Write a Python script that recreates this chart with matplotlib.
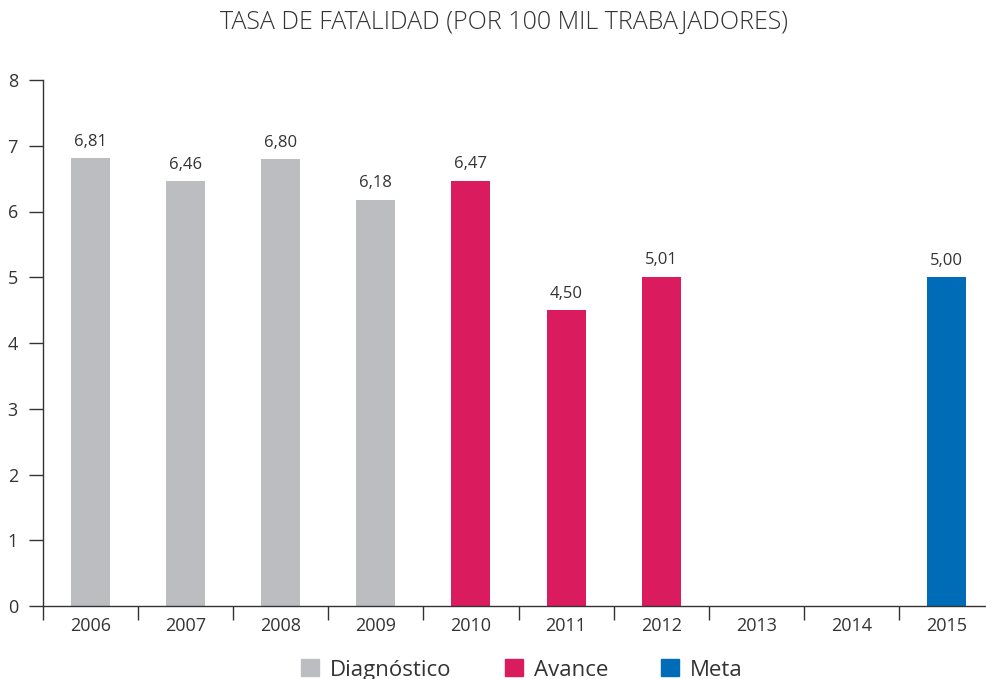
import matplotlib
matplotlib.use("Agg")
import matplotlib.pyplot as plt
from matplotlib.patches import Patch

# ----- data -----
years = ["2006", "2007", "2008", "2009", "2010", "2011", "2012", "2013", "2014", "2015"]
values = [6.81, 6.46, 6.80, 6.18, 6.47, 4.50, 5.01, None, None, 5.00]
groups = ["Diagnóstico", "Diagnóstico", "Diagnóstico", "Diagnóstico",
          "Avance", "Avance", "Avance", None, None, "Meta"]
group_colors = {"Diagnóstico": "#BCBDC1", "Avance": "#DA1B5D", "Meta": "#006BB6"}

txt = "#333333"
plt.rcParams["font.family"] = ["Open Sans", "DejaVu Sans"]

fig = plt.figure(figsize=(9.86, 6.79), dpi=100)
ax = fig.add_axes([43 / 986, 73 / 679, 951 / 986, 526 / 679])

for i, (v, g) in enumerate(zip(values, groups)):
    if v is None:
        continue
    ax.bar(i, v, width=0.41, color=group_colors[g], zorder=2)
    ax.annotate(f"{v:.2f}".replace(".", ","), (i, v), xytext=(0, 6),
                textcoords="offset points", ha="center", va="bottom",
                fontsize=12, color=txt)

ax.set_xlim(-0.5, 9.5)
ax.set_ylim(0, 8)
ax.set_yticks(range(0, 9))
ax.set_xticks(range(len(years)))
ax.set_xticklabels(years)
ax.set_xticks([i - 0.5 for i in range(len(years))], minor=True)
ax.tick_params(axis="x", which="major", length=0, pad=8, labelsize=13, labelcolor=txt)
ax.tick_params(axis="x", which="minor", length=10, width=1, color=txt)
ax.tick_params(axis="y", length=10, width=1, color=txt, pad=8, labelsize=13, labelcolor=txt)

for s in ["top", "right"]:
    ax.spines[s].set_visible(False)
for s in ["left", "bottom"]:
    ax.spines[s].set_color(txt)
    ax.spines[s].set_linewidth(1)

fig.text(504 / 986, 1 - 22 / 679, "TASA DE FATALIDAD (POR 100 MIL TRABAJADORES)",
         ha="center", va="center", fontsize=18, color=txt, fontweight="light")

handles = [Patch(color=group_colors[k]) for k in ["Diagnóstico", "Avance", "Meta"]]
fig.legend(handles, ["Diagnóstico", "Avance", "Meta"], ncol=3, loc="center",
           bbox_to_anchor=(522 / 986, 1 - 670 / 679), frameon=False,
           handlelength=0.8, handleheight=0.8, handletextpad=0.5,
           columnspacing=2.4, fontsize=16, labelcolor=txt)

fig.savefig("out.png", dpi=100)
